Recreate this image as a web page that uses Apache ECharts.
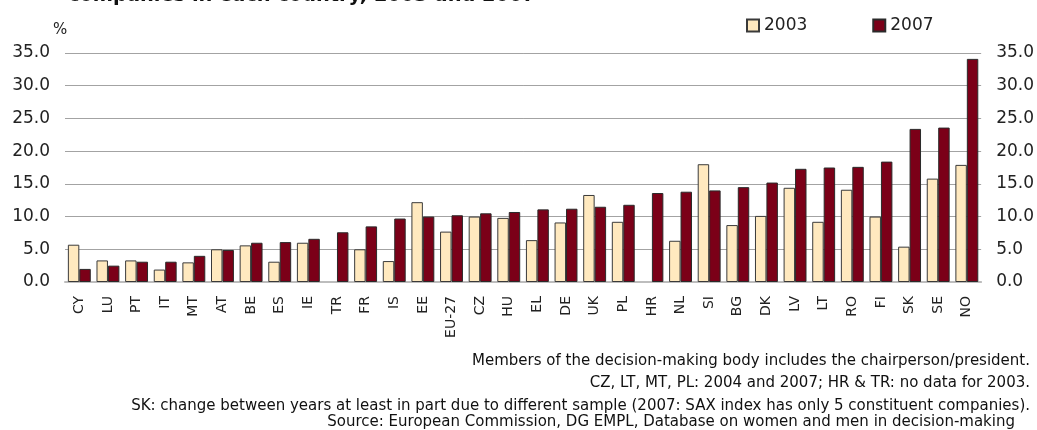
<!DOCTYPE html>
<html>
<head>
<meta charset="utf-8">
<script src="https://cdn.jsdelivr.net/npm/echarts@6/dist/echarts.min.js"></script>
<style>
  html, body { margin: 0; padding: 0; background: #fff; }
  #chart { width: 1037px; height: 430px; }
</style>
</head>
<body>
<div id="chart"></div>
<script>
// countries, sorted by 2007 value
var countries = ["CY", "LU", "PT", "IT", "MT", "AT", "BE", "ES", "IE", "TR", "FR", "IS", "EE", "EU-27", "CZ", "HU",
  "EL", "DE", "UK", "PL", "HR", "NL", "SI", "BG", "DK", "LV", "LT", "RO", "FI", "SK", "SE", "NO"];
// share of women (%), no 2003 data for TR and HR
var values2003 = [5.7, 3.3, 3.3, 1.9, 3.0, 5.0, 5.6, 3.1, 6.0, null, 5.0, 3.2, 12.2, 7.7, 10.0, 9.8,
  6.4, 9.1, 13.3, 9.2, null, 6.3, 18.0, 8.7, 10.1, 14.4, 9.2, 14.1, 10.0, 5.4, 15.8, 17.9];
var values2007 = [2.0, 2.5, 3.1, 3.1, 4.0, 4.9, 6.0, 6.1, 6.6, 7.6, 8.5, 9.7, 10.0, 10.2, 10.5, 10.7,
  11.1, 11.2, 11.5, 11.8, 13.6, 13.8, 14.0, 14.5, 15.2, 17.3, 17.5, 17.6, 18.4, 23.4, 23.6, 34.1];
var notes = [
  "Members of the decision-making body includes the chairperson/president.",
  "CZ, LT, MT, PL: 2004 and 2007; HR & TR: no data for 2003.",
  "SK: change between years at least in part due to different sample (2007: SAX index has only 5 constituent companies).",
  "Source: European Commission, DG EMPL, Database on women and men in decision-making"
];

var font = "DejaVu Sans";
var chart = echarts.init(document.getElementById("chart"));

// y axis, left and right look the same
function valueAxis(pos) {
  return {
    type: "value",
    position: pos,
    min: 0,
    max: 35,
    interval: 5,
    axisLine: { show: false },
    axisTick: { show: false },
    splitLine: { show: pos === "left", lineStyle: { color: "#a3a3a3", width: 1 } },
    axisLabel: {
      margin: 15,
      color: "#222",
      fontFamily: font,
      fontSize: 17,
      formatter: function (v) { return v.toFixed(1); }
    }
  };
}

var option = {
  animation: false,
  backgroundColor: "#fff",
  title: {
    text: "companies in each country, 2003 and 2007",
    left: 63,
    top: -19,
    textStyle: { fontFamily: font, fontSize: 19.4, fontWeight: "bold", color: "#111" }
  },
  legend: {
    left: 741,
    top: 12,
    icon: "rect",
    itemWidth: 12,
    itemHeight: 12,
    itemGap: 65,
    textStyle: { fontFamily: font, fontSize: 17, color: "#222" },
    data: ["2003", "2007"]
  },
  grid: { left: 65, right: 55, top: 53, bottom: 148 },
  xAxis: {
    type: "category",
    data: countries,
    axisLine: { lineStyle: { color: "#bdbdbd", width: 2 } },
    axisTick: { show: false },
    axisLabel: {
      rotate: 90,
      margin: 14,
      interval: 0,
      color: "#222",
      fontFamily: font,
      fontSize: 14
    }
  },
  yAxis: [valueAxis("left"), valueAxis("right")],
  series: [
    {
      name: "2003",
      type: "bar",
      data: values2003,
      barGap: "0%",
      barCategoryGap: "20%",
      itemStyle: { color: "#FFE9BF", borderColor: "#3a3a3a", borderWidth: 1 }
    },
    {
      name: "2007",
      type: "bar",
      data: values2007,
      itemStyle: { color: "#7B0018", borderColor: "#2a2a2a", borderWidth: 1 }
    }
  ],
  graphic: [
    {
      type: "text",
      left: 53,
      top: 23,
      style: { text: "%", font: "15px " + font, fill: "#222" }
    },
    { type: "text", right: 7, top: 354, style: { text: notes[0], font: "15px " + font, fill: "#111" } },
    { type: "text", right: 7, top: 376, style: { text: notes[1], font: "15px " + font, fill: "#111" } },
    { type: "text", right: 7, top: 399, style: { text: notes[2], font: "15px " + font, fill: "#111" } },
    { type: "text", right: 22, top: 415, style: { text: notes[3], font: "15px " + font, fill: "#111" } }
  ]
};

chart.setOption(option);
</script>
</body>
</html>
